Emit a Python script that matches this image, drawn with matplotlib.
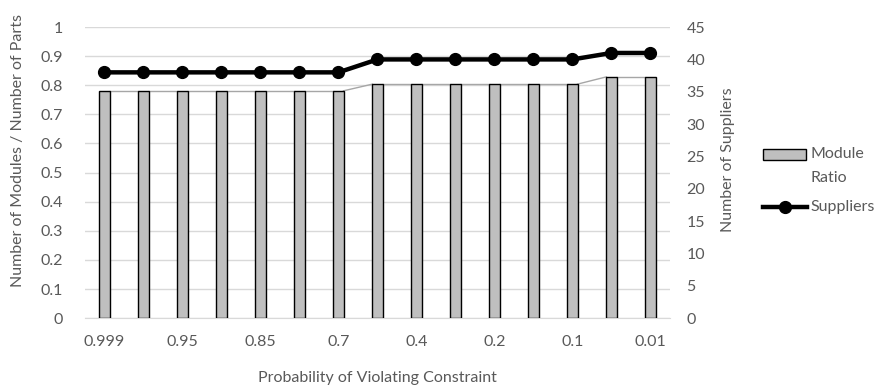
import matplotlib
matplotlib.use("Agg")
import matplotlib.pyplot as plt
from matplotlib.lines import Line2D
from matplotlib.patches import Rectangle

# Data
probabilities = ["0.999", "0.99", "0.95", "0.9", "0.85", "0.8", "0.7", "0.5",
                 "0.4", "0.3", "0.2", "0.15", "0.1", "0.05", "0.01"]
module_ratio = [0.781, 0.781, 0.781, 0.781, 0.781, 0.781, 0.781, 0.804,
                0.804, 0.804, 0.804, 0.804, 0.804, 0.829, 0.829]
suppliers = [38, 38, 38, 38, 38, 38, 38, 40, 40, 40, 40, 40, 40, 41, 41]

plt.rcParams['font.family'] = ['Lato', 'DejaVu Sans']
text_color = "#595959"
grid_color = "#d9d9d9"
bar_color = "#bfbfbf"
fs = 11.5

fig = plt.figure(figsize=(8.85, 3.87), dpi=100)
ax = fig.add_axes([0.096, 0.178, 0.661, 0.752])
ax2 = ax.twinx()

x = list(range(len(probabilities)))
bar_w = 0.26
ax.bar(x, module_ratio, width=bar_w, color=bar_color, edgecolor="black",
       linewidth=1.0, zorder=3)

# series lines joining neighbouring bar tops
for i in range(len(x) - 1):
    ax.plot([x[i] + bar_w / 2, x[i + 1] - bar_w / 2],
            [module_ratio[i], module_ratio[i + 1]],
            color="#a6a6a6", linewidth=1.0, zorder=2)

ax2.plot(x, suppliers, color="black", linewidth=3.2, marker="o",
         markersize=8.5, zorder=4)

ax.set_xlim(-0.5, len(x) - 0.5)
ax.set_ylim(0, 1)
ax2.set_ylim(0, 45)
ax.set_yticks([i / 10 for i in range(11)])
ax.set_yticklabels(["0"] + [f"{i/10:g}" for i in range(1, 10)] + ["1"])
ax2.set_yticks(range(0, 46, 5))

ax.set_xticks(x)
ax.set_xticklabels([p if i % 2 == 0 else "" for i, p in enumerate(probabilities)])

ax.yaxis.grid(True, color=grid_color, linewidth=1.0, zorder=0)
ax.set_axisbelow(True)
for a in (ax, ax2):
    for s in a.spines.values():
        s.set_visible(False)
    a.tick_params(length=0, labelsize=fs, colors=text_color)
ax.spines["bottom"].set_visible(True)
ax.spines["bottom"].set_color(grid_color)
ax.tick_params(axis="x", pad=12)
ax.tick_params(axis="y", pad=16)
ax2.tick_params(axis="y", pad=12)

ax.set_xlabel("Probability of Violating Constraint", fontsize=fs,
              color=text_color, labelpad=16)
ax.set_ylabel("Number of Modules / Number of Parts", fontsize=fs,
              color=text_color)
ax2.set_ylabel("Number of Suppliers", fontsize=fs, color=text_color)
ax.yaxis.set_label_coords(-0.1145, 0.577)
ax.yaxis.label.set_va("center")
ax2.yaxis.set_label_coords(1.099, 0.546)
ax2.yaxis.label.set_va("center")

# legend drawn in figure pixel coordinates
W, H = 885, 387
def fx(px):
    return px / W
def fy(py):
    return 1 - py / H

fig.add_artist(Rectangle((fx(763), fy(160)), fx(806) - fx(763), fy(149) - fy(160),
                         transform=fig.transFigure, facecolor=bar_color,
                         edgecolor="black", linewidth=1.0))
fig.text(fx(810), fy(154), "Module", fontsize=fs, color=text_color,
         va="center", ha="left")
fig.text(fx(810), fy(178), "Ratio", fontsize=fs, color=text_color,
         va="center", ha="left")
fig.add_artist(Line2D([fx(763), fx(807)], [fy(207), fy(207)],
                      transform=fig.transFigure, color="black", linewidth=3.2))
fig.add_artist(Line2D([fx(785)], [fy(207)], transform=fig.transFigure,
                      color="black", marker="o", markersize=8.5))
fig.text(fx(810), fy(207), "Suppliers", fontsize=fs, color=text_color,
         va="center", ha="left")

fig.savefig("out.png", dpi=100)
